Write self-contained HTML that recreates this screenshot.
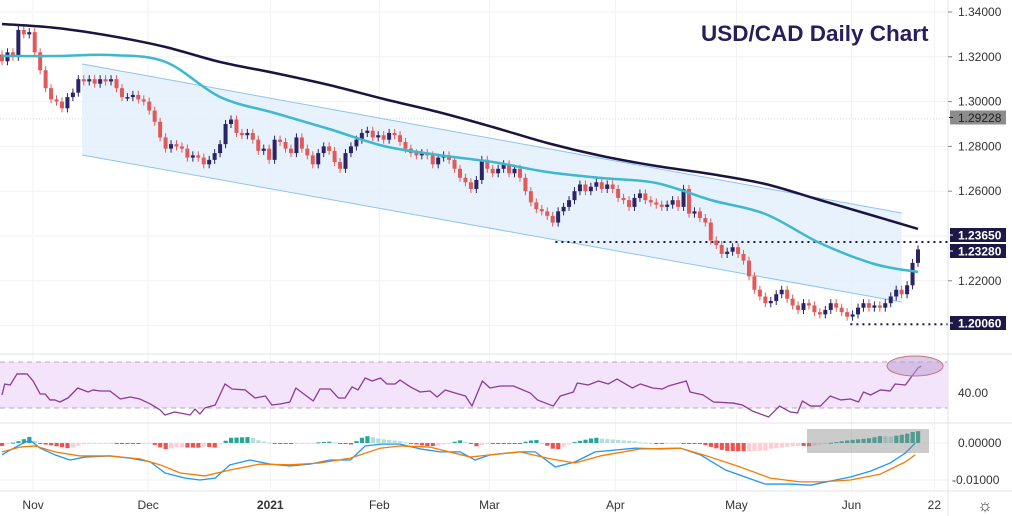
<!DOCTYPE html>
<html><head><meta charset="utf-8"><style>
html,body{margin:0;padding:0;background:#fff;}
svg{display:block;font-family:"Liberation Sans",sans-serif;}
</style></head><body>
<svg id="c" width="1012" height="516" viewBox="0 0 1012 516">
<rect width="1012" height="516" fill="#fff"/>
<g id="grid"></g>
<g id="main"></g>
<g id="rsi"></g>
<g id="macd"></g>
<g id="axes"></g>
<text x="701" y="41" font-size="22.5" font-weight="bold" fill="#2a1e5a">USD/CAD Daily Chart</text>
</svg>
<script>
const closes=[1.318,1.322,1.320,1.332,1.330,1.331,1.322,1.314,1.306,1.301,1.300,1.297,1.302,1.304,1.310,1.309,1.310,1.308,1.310,1.309,
1.310,1.306,1.302,1.302,1.303,1.301,1.300,1.296,1.291,1.284,1.279,1.281,1.280,1.279,1.275,1.276,1.275,1.272,1.274,1.277,
1.281,1.290,1.292,1.286,1.285,1.286,1.283,1.278,1.279,1.274,1.283,1.282,1.279,1.277,1.284,1.279,1.276,1.272,1.277,1.280,
1.278,1.273,1.270,1.277,1.280,1.283,1.286,1.287,1.284,1.285,1.283,1.286,1.285,1.282,1.279,1.277,1.276,1.277,1.276,1.272,
1.275,1.276,1.274,1.270,1.266,1.264,1.261,1.265,1.274,1.270,1.268,1.270,1.272,1.268,1.270,1.266,1.260,1.255,1.252,1.251,
1.249,1.246,1.251,1.253,1.256,1.260,1.263,1.260,1.262,1.264,1.261,1.263,1.261,1.257,1.256,1.253,1.257,1.259,1.256,1.255,
1.254,1.253,1.254,1.256,1.253,1.261,1.250,1.251,1.248,1.246,1.238,1.236,1.232,1.233,1.235,1.232,1.229,1.222,1.216,1.213,
1.210,1.211,1.214,1.216,1.212,1.209,1.207,1.210,1.209,1.206,1.205,1.207,1.210,1.208,1.206,1.204,1.205,1.208,1.210,1.208,
1.209,1.208,1.210,1.213,1.216,1.214,1.218,1.228,1.234];
const firstOpen=1.321;
const maIdx=[0,10,20,30,40,50,60,70,80,90,100,110,120,130,140,150,160,168];
const ma200=[1.33464,1.33286,1.32929,1.32438,1.31768,1.31277,1.30741,1.30116,1.29536,1.28866,1.28152,1.27571,1.27125,1.26768,1.26321,1.25607,1.24893,1.24313];
const ma50=[1.32036,1.32036,1.32080,1.31768,1.30205,1.29491,1.28777,1.28018,1.27616,1.27304,1.26857,1.26589,1.26366,1.25607,1.24982,1.23687,1.22750,1.22393];
const chanIdx=[14.7,165];
const chanUpper=[1.31679,1.25027];
const chanLower=[1.27616,1.21054];
const priceTicks=["1.34000","1.32000","1.30000","1.28000","1.26000","1.22000"];
const rsiDay=[0,0.5,1.5,2.75,4.6,5.7,7,7.9,8.8,9.7,10.6,12.1,13.9,15.8,16.7,18,19.8,21.7,23.5,25.3,27.2,29,29.9,31.7,33.6,34.5,35.4,36.3,37.2,39.1,40.9,42.2,44.6,46.4,48.3,49.5,51,52.8,53.9,55.6,57.1,58.3,60.2,61.7,62.9,64.2,65.3,66.6,67.9,69.4,70.6,72.1,73,74.9,76.7,78.5,79.8,81.3,83.1,85,86.2,88.1,89.5,91.4,93.8,96.9,98.2,101.1,102.4,104.8,105.5,107.5,109.4,111.2,112.8,115.6,117.1,119.3,121.1,122.2,125.5,126.2,128.6,130.5,134.1,135.8,137.6,140.6,142.6,144.6,145.9,146.8,148.3,150.1,151.9,153.8,155.6,157.1,158,159.3,161.1,162.9,163.8,165.7,166.9,168,168.6];
const rsiVal=[41.3,50.9,50,59.6,59.6,53.5,42.2,42.2,37,37,35.2,38.7,47.4,43.9,45.7,44.8,44.8,37.8,39.6,37.8,33.5,28.3,23.9,26.5,24.8,23.9,29.1,24.8,30,32.6,50.9,46.5,45.7,38.7,40.4,32.6,33.5,35.2,47.4,41.3,36.1,46.5,46.5,38.7,38.7,48.3,45.7,56.1,53.5,56.1,50.9,50.9,54.3,48.3,43.9,44.8,39.6,45.7,43,40.4,31.7,53.5,47.4,49.1,49.1,43,37,31.7,40.4,43.9,51.7,50,53.5,50.9,55.2,47.4,50.9,47.4,46.5,49.1,53.5,43.9,41.3,35.2,34.3,32.6,27.4,22.2,31.7,26.5,25.7,36.1,31.7,31.7,40.4,37,37.8,35.2,43.9,41.3,45.7,44.8,50.9,50,57.8,64.8,66.5];
const macdDay=[0,1.5,3.3,5.1,7,9.7,12.5,15.2,19.8,23.5,27.2,29.9,33.6,36.3,39.1,41.8,45.5,49.2,52.8,56.5,60.2,63.9,66.6,69.4,73,76.7,80.4,84,86.8,89.5,95,97.8,101.5,105.1,108.8,112.5,116.1,120.7,124.4,128.1,132.7,136.3,140,144.6,148.3,151.9,155.6,159.3,162.9,165.7,167.5];
const macdVal=[-0.0032,-0.0019,-0.0005,0.0008,-0.0014,-0.0032,-0.0046,-0.0038,-0.0035,-0.0041,-0.0051,-0.0081,-0.0095,-0.0100,-0.0095,-0.0059,-0.0046,-0.0057,-0.0062,-0.0057,-0.0046,-0.0046,-0.0008,-0.0003,-0.0003,-0.0016,-0.0024,-0.0024,-0.0046,-0.0032,-0.0024,-0.0024,-0.0065,-0.0051,-0.0024,-0.0019,-0.0014,-0.0016,-0.0014,-0.0032,-0.0073,-0.0092,-0.0111,-0.0111,-0.0114,-0.0103,-0.0092,-0.0076,-0.0054,-0.0027,0];
const sigDay=[0,3.3,6.1,9.7,14.3,19.8,25.3,29,32.7,37.2,41.8,47.3,52.8,58.3,63.9,69.4,73,78.5,85.9,89.5,95,100.6,105.1,109.7,117.1,124.4,129.9,135.4,140.9,146.4,150.1,155.6,161.1,165.7,167.5];
const sigVal=[-0.0024,-0.0011,-0.0008,-0.0024,-0.0035,-0.0035,-0.0043,-0.0059,-0.0081,-0.0089,-0.0073,-0.0057,-0.0059,-0.0054,-0.0041,-0.0014,-0.0008,-0.0011,-0.0038,-0.0032,-0.0024,-0.0043,-0.0054,-0.0035,-0.0016,-0.0014,-0.0038,-0.0065,-0.0095,-0.0105,-0.0105,-0.0100,-0.0084,-0.0051,-0.0032];
const monthLabels=["Nov","Dec","2021","Feb","Mar","Apr","May","Jun","22"];
const monthIdx=[5.7,26.8,49.2,69.2,89.4,112.5,134.7,155.8,171];

const NS="http://www.w3.org/2000/svg";
const AX=948;
function X(i){return 2+i*(916/168);}
function Y(p){return 12+(1.34-p)*2240;}
function YR(v){return 362+(70-v)*1.15;}
function YM(v){return 443-v*3700;}
function mk(parent,tag,attrs){const e=document.createElementNS(NS,tag);for(const k in attrs)e.setAttribute(k,attrs[k]);document.getElementById(parent).appendChild(e);return e;}
function interp(xs,ys,x){if(x<=xs[0])return ys[0];for(let k=1;k<xs.length;k++){if(x<=xs[k]){const t=(x-xs[k-1])/(xs[k]-xs[k-1]);return ys[k-1]+t*(ys[k]-ys[k-1]);}}return ys[ys.length-1];}

// grid
const tickPrices=[1.34,1.32,1.30,1.28,1.26,1.24,1.22,1.20];
tickPrices.forEach(p=>{const l=mk('grid','line',{x1:0,x2:AX,y1:Y(p),y2:Y(p),stroke:'#f0f2f5'});

});
monthIdx.forEach(i=>{const l=mk('grid','line',{x1:X(i),x2:X(i),y1:0,y2:491,stroke:'#f0f2f5'});

});
[395,443,480].forEach(y=>{const l=mk('grid','line',{x1:0,x2:AX,y1:y,y2:y,stroke:'#f0f2f5'});

});
const dl=mk('grid','line',{x1:0,x2:AX,y1:Y(1.29228),y2:Y(1.29228),stroke:'#d6d8dd','stroke-dasharray':'1 2'});



// channel
const ch=mk('main','polygon',{points:`${X(chanIdx[0])},${Y(chanUpper[0])} ${X(chanIdx[1])},${Y(chanUpper[1])} ${X(chanIdx[1])},${Y(chanLower[1])} ${X(chanIdx[0])},${Y(chanLower[0])}`,fill:'#e3f0fc',stroke:'none','fill-opacity':'0.85'});


[[chanUpper,'channel-upper'],[chanLower,'channel-lower']].forEach(([arr,n])=>{const l=mk('main','line',{x1:X(chanIdx[0]),y1:Y(arr[0]),x2:X(chanIdx[1]),y2:Y(arr[1]),stroke:'#8fc3ee','stroke-width':1});

});

// level lines
const lv1=mk('main','line',{x1:X(101.5),x2:AX,y1:242,y2:242,stroke:'#1e1848','stroke-width':2,'stroke-dasharray':'2 4'});


const lv2=mk('main','line',{x1:X(155.6),x2:AX,y1:Y(1.2006),y2:Y(1.2006),stroke:'#1e1848','stroke-width':2,'stroke-dasharray':'2 4'});



// candles
for(let i=0;i<closes.length;i++){
 const o=i===0?firstOpen:closes[i-1],c=closes[i];
 const up=c>=o,col=up?'#2a2466':'#e05a5a';
 const hi=Math.max(o,c)+0.0018,lo=Math.min(o,c)-0.0018;
 const w=mk('main','line',{x1:X(i),x2:X(i),y1:Y(hi),y2:Y(lo),stroke:col,'stroke-width':1});
 
 
 const top=Y(Math.max(o,c)),h=Math.max(1.5,Math.abs(Y(o)-Y(c)));
 const b=mk('main','rect',{x:X(i)-2,y:top,width:4,height:h,fill:col});
 
 
}

// smooth curve helper
function smooth(parent,xs,ys,fx,fy,stroke,sw){
 const P=xs.map((x,k)=>[fx(x),fy(ys[k])]);
 let d='M'+P[0][0]+','+P[0][1];
 for(let k=0;k<P.length-1;k++){
  const p0=P[Math.max(0,k-1)],p1=P[k],p2=P[k+1],p3=P[Math.min(P.length-1,k+2)];
  const c1=[p1[0]+(p2[0]-p0[0])/6,p1[1]+(p2[1]-p0[1])/6],c2=[p2[0]-(p3[0]-p1[0])/6,p2[1]-(p3[1]-p1[1])/6];
  d+=` C${c1[0]},${c1[1]} ${c2[0]},${c2[1]} ${p2[0]},${p2[1]}`;
 }
 return mk(parent,'path',{d:d,fill:'none',stroke:stroke,'stroke-width':sw,'stroke-linejoin':'round'});
}
function pl(parent,xs,ys,fx,fy,stroke,sw){const pts=xs.map((x,k)=>fx(x)+','+fy(ys[k])).join(' ');return mk(parent,'polyline',{points:pts,fill:'none',stroke:stroke,'stroke-width':sw,'stroke-linejoin':'round'});}
const m2=smooth('main',maIdx,ma200,X,Y,'#1b1440',2.5);


const m5=smooth('main',maIdx,ma50,X,Y,'#3db8cf',2.5);



// RSI
const rb=mk('rsi','rect',{x:0,y:362,width:AX,height:46,fill:'#f3e4fc'});


[362,408].forEach(y=>{const l=mk('rsi','line',{x1:0,x2:AX,y1:y,y2:y,stroke:'#b8a6c2','stroke-dasharray':'5 4'});

});
const rl=pl('rsi',rsiDay,rsiVal,X,YR,'#8b3b97',1.3);


const el=mk('rsi','ellipse',{cx:915,cy:366,rx:28,ry:10,fill:'rgba(190,160,210,0.55)',stroke:'#c8707e','stroke-width':1});



// MACD
let prev=0;
for(let i=0;i<closes.length;i++){
 const d=interp(macdDay,macdVal,i)-interp(sigDay,sigVal,i);
 let col;
 if(d>=0)col=d>=prev?'#26a69a':'#b2dfdb';else col=d<=prev?'#ef5350':'#ffcdd2';
 prev=d;
 const y1=Math.min(YM(0),YM(d)),h=Math.max(1,Math.abs(YM(d)-YM(0)));
 const r=mk('macd','rect',{x:X(i)-2,y:y1,width:4.2,height:h,fill:col});
 
 
}
const ml=pl('macd',macdDay,macdVal,X,YM,'#2196f3',1.3);


const sl=pl('macd',sigDay,sigVal,X,YM,'#f57c00',1.3);


const gb=mk('macd','rect',{x:807,y:429,width:122,height:24,fill:'rgba(140,140,140,0.45)'});



// axes & separators
[[354,'main-panel-separator'],[423,'rsi-panel-separator'],[491,'time-axis-line']].forEach(([y,n])=>{const l=mk('axes','line',{x1:0,x2:1012,y1:y,y2:y,stroke:'#e0e3eb'});

});
const av=mk('axes','line',{x1:AX,x2:AX,y1:0,y2:516,stroke:'#e0e3eb'});


const tickP=[1.34,1.32,1.30,1.28,1.26,1.22];
priceTicks.forEach((t,k)=>{const y=Y(tickP[k]);
 const tk=mk('axes','line',{x1:AX,x2:AX+4,y1:y,y2:y,stroke:'#888'});
 
 
 const tx=mk('axes','text',{x:958,y:y+4,'font-size':12,fill:'#333'});tx.textContent=t;
 
 });
function tag(y,txt,bg,fg,name,bold){const r=mk('axes','rect',{x:AX+2,y:y-7,width:56,height:14,fill:bg});
 
 
 const tk=mk('axes','line',{x1:AX+1,x2:AX+5,y1:y,y2:y,stroke:fg});
 
 
 const t=mk('axes','text',{x:958,y:y+4.5,'font-size':12,fill:fg,'font-weight':bold?'bold':'normal'});t.textContent=txt;
 
 }
tag(117.5,'1.29228','#8c8c8c','#222','current-price-tag',false);
tag(235,'1.23650','#1e1848','#fff','level-tag-1.2365',true);
tag(251,'1.23280','#1e1848','#fff','level-tag-1.2328',true);
tag(323,'1.20060','#1e1848','#fff','level-tag-1.2006',true);
[[397,'40.00','rsi-tick-label'],[447,'0.00000','macd-zero-label'],[484,'-0.01000','macd-tick-label']].forEach(([y,t,n])=>{const tx=mk('axes','text',{x:t[0]==='-'?952:958,y:y,'font-size':12,fill:'#333'});tx.textContent=t;
 
 });
monthLabels.forEach((m,k)=>{const tx=mk('axes','text',{x:X(monthIdx[k]),y:509,'font-size':12,fill:'#333','text-anchor':'middle','font-weight':m==='2021'?'bold':'normal'});tx.textContent=m;
 
 });
const gear=mk('axes','text',{x:985,y:511,'font-size':17,fill:'#333','text-anchor':'middle'});gear.textContent='\u263C';


</script>
</body></html>
